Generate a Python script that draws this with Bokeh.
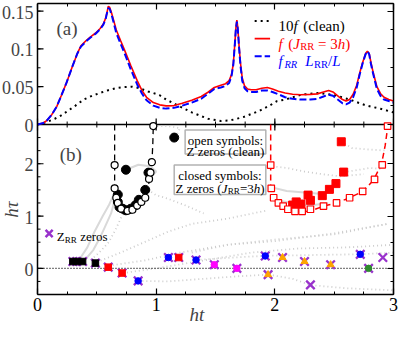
import math
from bokeh.plotting import figure
from bokeh.models import (Range1d, LinearAxis, Label, Span, BoxAnnotation,
                          FixedTicker, CustomJSTickFormatter)
from bokeh.embed import file_html
from bokeh.resources import INLINE

FONT = "Liberation Serif"

# ---------------- panel (a) data ----------------
x_f = [0, 0.05, 0.08, 0.12, 0.163, 0.2, 0.244, 0.29, 0.336, 0.366, 0.41, 0.447, 0.49, 0.528,
       0.555, 0.575, 0.588, 0.596, 0.608, 0.623, 0.643, 0.664, 0.7, 0.732, 0.786, 0.84, 0.88,
       0.919, 0.976, 1.03, 1.084, 1.15, 1.22, 1.30, 1.38, 1.44, 1.49, 1.545, 1.585, 1.615,
       1.635, 1.65, 1.662, 1.672, 1.68, 1.688, 1.698, 1.71, 1.725, 1.745, 1.77, 1.80, 1.843,
       1.89, 1.937, 1.98, 2.03, 2.087, 2.15, 2.22, 2.30, 2.358, 2.41, 2.453, 2.49, 2.53, 2.57,
       2.60, 2.63, 2.66, 2.69, 2.715, 2.74, 2.765, 2.78, 2.795, 2.81, 2.83, 2.86, 2.89, 2.92,
       2.96, 3.0]
f_jrr = [0, 0.002, 0.0055, 0.013, 0.024, 0.038, 0.055, 0.075, 0.094, 0.104, 0.111, 0.116,
         0.121, 0.127, 0.133, 0.141, 0.150, 0.156, 0.155, 0.148, 0.137, 0.125, 0.111, 0.099,
         0.078, 0.058, 0.045, 0.036, 0.029, 0.026, 0.0246, 0.025, 0.028, 0.032, 0.037, 0.043,
         0.049, 0.052, 0.054, 0.058, 0.066, 0.08, 0.105, 0.128, 0.138, 0.128, 0.105, 0.082,
         0.062, 0.051, 0.047, 0.046, 0.046, 0.048, 0.049, 0.047, 0.044, 0.0416, 0.040, 0.0394,
         0.0398, 0.0405, 0.043, 0.045, 0.043, 0.038, 0.033, 0.031, 0.033, 0.040, 0.052, 0.068,
         0.082, 0.094, 0.097, 0.094, 0.082, 0.068, 0.050, 0.041, 0.036, 0.033, 0.031]
f_rr = [0, 0.002, 0.0055, 0.013, 0.024, 0.038, 0.055, 0.075, 0.094, 0.103, 0.110, 0.115,
        0.120, 0.126, 0.132, 0.140, 0.149, 0.154, 0.153, 0.146, 0.134, 0.121, 0.107, 0.095,
        0.073, 0.053, 0.041, 0.032, 0.025, 0.022, 0.021, 0.022, 0.025, 0.029, 0.034, 0.041,
        0.047, 0.049, 0.051, 0.055, 0.064, 0.079, 0.104, 0.127, 0.136, 0.126, 0.103, 0.079,
        0.058, 0.048, 0.044, 0.043, 0.043, 0.045, 0.045, 0.043, 0.040, 0.036, 0.034, 0.033,
        0.033, 0.034, 0.037, 0.0394, 0.038, 0.033, 0.028, 0.0267, 0.029, 0.036, 0.049, 0.066,
        0.081, 0.093, 0.097, 0.093, 0.080, 0.066, 0.047, 0.038, 0.033, 0.031, 0.029]
x_clean = [0, 0.073, 0.146, 0.2, 0.255, 0.32, 0.39, 0.46, 0.526, 0.59, 0.661, 0.73, 0.797,
           0.86, 0.932, 0.976, 1.027, 1.084, 1.19, 1.30, 1.437, 1.545, 1.626, 1.734, 1.87,
           1.951, 2.019, 2.087, 2.22, 2.358, 2.49, 2.63, 2.764, 2.9, 3.0]
f_clean10 = [0, 0.003, 0.0076, 0.012, 0.018, 0.025, 0.033, 0.038, 0.0416, 0.045, 0.048,
             0.0495, 0.050, 0.048, 0.0437, 0.0416, 0.039, 0.033, 0.0246, 0.016, 0.0076, 0.0047,
             0.0055, 0.0098, 0.018, 0.0246, 0.031, 0.033, 0.0394, 0.0416, 0.0394, 0.033, 0.0254,
             0.0204, 0.016]

# ---------------- panel (b) data ----------------
u_clean_x = [0.65, 0.65, 0.652, 0.66, 0.675, 0.70, 0.732, 0.76, 0.80, 0.84, 0.88, 0.908, 0.925,
             0.94, 0.955, 0.965, 0.972, 0.976]
u_clean_y = [2.75, 1.6, 1.45, 1.33, 1.22, 1.14, 1.10, 1.09, 1.12, 1.2, 1.28, 1.36, 1.48, 1.65,
             1.85, 2.05, 2.4, 2.75]
open_c_x = [0.65, 0.65, 0.664, 0.677, 0.705, 0.759, 0.80, 0.84, 0.875, 0.908, 0.94, 0.952,
            0.964, 0.976]
open_c_y = [1.975, 1.53, 1.35, 1.25, 1.14, 1.10, 1.12, 1.2, 1.27, 1.35, 1.71, 1.83, 2.03, 2.72]
fill_c_x = [1.152, 0.745, 0.935, 0.908, 0.677, 0.677, 0.691, 0.718, 0.745, 0.786, 0.827, 0.854]
fill_c_y = [2.5, 1.885, 1.83, 1.5, 1.41, 1.27, 1.17, 1.14, 1.11, 1.14, 1.21, 1.31]

u_rr_x = [1.965, 1.965, 1.97, 1.992, 2.03, 2.07, 2.14, 2.25, 2.33, 2.41, 2.52, 2.63, 2.74, 2.83,
          2.9, 2.93, 2.945, 2.95]
u_rr_y = [2.75, 1.6, 1.45, 1.35, 1.25, 1.18, 1.11, 1.08, 1.12, 1.19, 1.25, 1.35, 1.47, 1.68,
          2.0, 2.35, 2.6, 2.75]
open_s_x = [1.965, 1.97, 1.99, 2.03, 2.07, 2.11, 2.17, 2.23, 2.30, 2.41, 2.52, 2.63, 2.74, 2.84,
            2.905, 2.95]
open_s_y = [1.975, 1.53, 1.35, 1.25, 1.19, 1.13, 1.09, 1.09, 1.13, 1.19, 1.25, 1.35, 1.47, 1.70,
            1.98, 2.72]
fill_s_x = [2.56, 2.58, 2.515, 2.46, 2.40, 2.28, 2.30, 2.22, 2.18, 2.15]
fill_s_y = [2.42, 1.84, 1.62, 1.51, 1.39, 1.40, 1.30, 1.23, 1.27, 1.21]

# Z_RR zeros and the Z zeros lying on them
zrr_x = [0.298, 0.33, 0.38, 0.488, 0.596, 0.713, 0.848, 1.103, 1.19, 1.336, 1.49, 1.68, 1.919,
         1.943, 2.065, 2.25, 2.30, 2.47, 2.72, 2.79, 2.91]
zrr_y = [0.13, 0.13, 0.13, 0.10, 0.023, -0.09, -0.24, 0.207, 0.207, 0.16, 0.07, 0.0, 0.237,
         -0.12, 0.207, 0.13, -0.316, 0.07, 0.268, 0.0, 0.207]
blk_sq_x = [0.298, 0.33, 0.38, 0.488]
blk_sq_y = [0.13, 0.13, 0.13, 0.10]
red_sq_x = [0.596, 0.713, 1.19]
red_sq_y = [0.023, -0.09, 0.207]
blue_x = [0.848, 1.103, 1.336, 1.919, 2.72]
blue_y = [-0.24, 0.207, 0.16, 0.237, 0.268]
mag_x = [1.49, 1.68]
mag_y = [0.07, 0.0]
orange_x = [1.943, 2.065, 2.25, 2.47]
orange_y = [-0.12, 0.207, 0.13, 0.07]
green_x = [2.79]
green_y = [0.0]

# faint trajectories (grey)
traj_dot_x = [
    [0.45, 0.52, 0.6, 0.66, 0.70, 0.73],
    [0.5, 0.7, 0.9, 1.1, 1.3, 1.6, 1.92],
    [0.6, 0.9, 1.2, 1.6, 2.0, 2.5, 2.95],
    [0.72, 1.0, 1.4, 1.8, 2.2, 2.6, 3.0],
    [0.85, 1.1, 1.4, 1.7, 1.95],
    [1.95, 2.15, 2.3, 2.6, 3.0],
    [1.34, 1.6, 1.92, 2.2, 2.72, 3.0],
    [0.976, 1.1, 1.2, 1.18, 1.15],
    [0.93, 1.0, 1.1, 1.25, 1.4],
    [2.56, 2.65, 2.8, 2.95],
    [2.58, 2.7, 2.8, 2.9],
    [1.98, 2.1, 2.25, 2.4, 2.55, 2.75],
    [1.3, 1.6, 2.0, 2.5, 2.95],
]
traj_dot_y = [
    [0.16, 0.3, 0.5, 0.75, 0.95, 1.08],
    [0.12, 0.3, 0.5, 0.7, 0.85, 0.95, 1.1],
    [0.05, 0.15, 0.3, 0.45, 0.55, 0.65, 0.85],
    [-0.09, 0.0, 0.15, 0.3, 0.38, 0.4, 0.45],
    [-0.24, -0.25, -0.2, -0.15, -0.12],
    [-0.12, -0.2, -0.32, -0.38, -0.42],
    [0.16, 0.2, 0.24, 0.25, 0.27, 0.3],
    [2.72, 2.72, 2.68, 2.58, 2.5],
    [1.5, 1.4, 1.33, 1.2, 1.05],
    [2.42, 2.3, 2.27, 2.25],
    [1.84, 1.88, 1.92, 1.9],
    [1.95, 1.92, 1.85, 1.8, 1.76, 1.8],
    [0.3, 0.45, 0.52, 0.67, 0.85],
]
traj_solid_x = [
    [0.35, 0.42, 0.48, 0.55, 0.6, 0.65],
    [0.40, 0.47, 0.53, 0.58, 0.62, 0.65],
    [0.745, 0.85, 0.95, 1.0, 0.97],
    [1.97, 2.1, 2.25, 2.4],
    [2.0, 2.1, 2.2, 2.3, 2.45],
]
traj_solid_y = [
    [0.16, 0.4, 0.7, 1.0, 1.2, 1.45],
    [0.16, 0.35, 0.6, 0.85, 1.05, 1.3],
    [1.885, 1.98, 1.95, 1.85, 1.78],
    [1.55, 1.48, 1.45, 1.42],
    [1.3, 1.27, 1.22, 1.2, 1.25],
]

# tick values and labels
x_major = [0, 1, 2, 3]
x_minor = [i * 0.25 for i in range(13)]
a_major = [0, 0.05, 0.1, 0.15]
a_labels = ["0", "0.05", "0.1", "0.15"]
a_minor = [j * 0.025 for j in range(7)]
b_major = [0, 1, 2]
b_labels = ["0", "1", "2"]
b_minor = [-0.5 + 0.25 * i for i in range(14)]

# ---------------- geometry: one frame, two stacked panels ----------------
W, H = 399, 327
RB = 6                            # right border
X0PX = 37                         # px from frame left to x = 0 (room for y labels)
FW = W - RB
XL = -3.0 * X0PX / (FW - X0PX)    # x range start so that x = 0 sits X0PX into frame
PXX = (FW - X0PX) / 3.0           # px per x unit
HT, HB = 121, 170                 # relative heights of panels (a) and (b)
Y0, Y1 = -0.5, 2.75               # panel (b) range
A1 = 0.16                         # panel (a) top
EXT = (Y1 - Y0) * HT / HB
S = EXT / A1                      # main units per panel-(a) unit
PXY = HB / (Y1 - Y0)              # px per main y unit

# ---------------- text helpers ----------------
REG = {' ': 250, '(': 333, ')': 333, '=': 564, '/': 278, ':': 278, '.': 250,
       'a': 444, 'b': 500, 'c': 444, 'd': 500, 'e': 444, 'f': 333, 'h': 500, 'i': 278,
       'l': 278, 'm': 778, 'n': 500, 'o': 500, 'p': 500, 'r': 333, 's': 389, 't': 278,
       'y': 500, 'z': 444, 'J': 389, 'L': 611, 'R': 667, 'Z': 611}
ITA = {'f': 400, 'h': 500, 'J': 470, 'L': 580, 'R': 640}


def twidth(s, style):
    tab = ITA if style == "italic" else REG
    return sum(tab.get(c, 500) for c in s) / 1000.0


def rich(p, x, y, pieces, size, color, center=False, rng="default"):
    total = sum(twidth(t, st) * size * sc for t, st, sc, dy in pieces)
    off = -total / 2 if center else 0
    for t, st, sc, dy in pieces:
        fs = size * sc
        lead = len(t) - len(t.lstrip(' '))
        trail = len(t) - len(t.rstrip(' '))
        core = t.strip(' ')
        off += lead * 0.25 * fs
        p.add_layout(Label(x=x, y=y, x_offset=off, y_offset=dy, text=core, text_font=FONT,
                           text_font_size=f"{fs:.1f}px", text_font_style=st,
                           text_color=color, text_baseline="alphabetic", text_align="left",
                           y_range_name=rng))
        off += twidth(core, st) * fs + trail * 0.25 * fs


def mk_axis(ticker, labels=True, bounds="auto"):
    ax = LinearAxis(ticker=ticker, bounds=bounds)
    ax.axis_line_color = "black"
    ax.axis_line_width = 1.5
    ax.major_tick_in = 6
    ax.major_tick_out = 0
    ax.minor_tick_in = 3
    ax.minor_tick_out = 0
    ax.major_tick_line_width = 1.2
    ax.minor_tick_line_width = 1.0
    if labels:
        ax.major_label_text_font = FONT
        ax.major_label_text_font_size = "18px"
        ax.major_label_text_color = "black"
        ax.major_label_standoff = 3
    else:
        ax.major_label_text_font_size = "0px"
        ax.major_label_standoff = 0
        ax.formatter = CustomJSTickFormatter(code="return '';")
    return ax


p = figure(width=W, height=H, min_border_left=0, min_border_right=RB, min_border_top=3,
           min_border_bottom=0, output_backend="svg", toolbar_location=None,
           x_axis_location=None, y_axis_location=None,
           x_range=Range1d(XL, 3), y_range=Range1d(Y0, Y1 + EXT))
p.extra_y_ranges = {"a": Range1d(-(Y1 - Y0) / S, A1)}
p.outline_line_color = None
p.background_fill_color = "white"
p.border_fill_color = "white"
p.xgrid.visible = False
p.ygrid.visible = False
p.grid.visible = False

y_major_pos = b_major + [Y1 + v * S for v in a_major]
y_major_txt = b_labels + a_labels
y_minor_pos = b_minor + [Y1 + v * S for v in a_minor]

p.add_layout(mk_axis(FixedTicker(ticks=y_major_pos, minor_ticks=y_minor_pos), False), "right")
p.add_layout(mk_axis(FixedTicker(ticks=x_major, minor_ticks=x_minor), False, (0, 3)), "above")
axb = mk_axis(FixedTicker(ticks=x_major, minor_ticks=x_minor), True, (0, 3))
axb.axis_label = "ht"
axb.axis_label_text_font = FONT
axb.axis_label_text_font_style = "italic"
axb.axis_label_text_font_size = "19px"
axb.axis_label_standoff = -10
p.add_layout(axb, "below")

# left frame edge with inward ticks and labels
p.add_layout(Span(location=0, dimension="height", line_color="black", line_width=1.5))
p.segment(x0=[0] * len(y_major_pos), y0=y_major_pos, x1=[6 / PXX] * len(y_major_pos),
          y1=y_major_pos, line_color="black", line_width=1.2)
p.segment(x0=[0] * len(y_minor_pos), y0=y_minor_pos, x1=[3 / PXX] * len(y_minor_pos),
          y1=y_minor_pos, line_color="black", line_width=1.0)
for pos, txt in zip(y_major_pos, y_major_txt):
    p.add_layout(Label(x=0, y=pos, x_offset=-4, y_offset=-1, text=txt, text_font=FONT,
                       text_font_size="18px", text_align="right", text_baseline="middle"))

# separator between the panels, with ticks crossing it
p.segment(x0=[0], y0=[Y1], x1=[3], y1=[Y1], line_color="black", line_width=1.5)
Lmaj, Lmin = 6 / PXY, 3 / PXY
p.segment(x0=x_major, y0=[Y1 - Lmaj] * len(x_major), x1=x_major, y1=[Y1 + Lmaj] * len(x_major),
          line_color="black", line_width=1.2)
p.segment(x0=x_minor, y0=[Y1 - Lmin] * len(x_minor), x1=x_minor, y1=[Y1 + Lmin] * len(x_minor),
          line_color="black", line_width=1.0)

# ---------------- panel (a) ----------------
p.line(x_clean, f_clean10, line_color="black", line_width=2, line_dash="2 4", y_range_name="a")
p.line(x_f, f_jrr, line_color="#ff0000", line_width=1.6, y_range_name="a")
p.line(x_f, f_rr, line_color="#0000ff", line_width=2, line_dash="7 3", y_range_name="a")

p.add_layout(Label(x=0.16, y=0.127, text="(a)", text_font=FONT, text_font_size="19px",
                   text_baseline="alphabetic", y_range_name="a"))
leg_y = [0.137, 0.1136, 0.0903]
p.line([1.83, 1.96], [leg_y[0]] * 2, line_color="black", line_width=2, line_dash="2 4",
       y_range_name="a")
p.line([1.83, 1.96], [leg_y[1]] * 2, line_color="#ff0000", line_width=1.6, y_range_name="a")
p.line([1.83, 1.96], [leg_y[2]] * 2, line_color="#0000ff", line_width=2, line_dash="7 3",
       y_range_name="a")
rich(p, 2.03, leg_y[0], [("10", "normal", 1, -5), ("f", "italic", 1, -5),
                         (" (clean)", "normal", 1, -5)], 15, "black", rng="a")
rich(p, 2.03, leg_y[1], [("f", "italic", 1, -5), (" (", "normal", 1, -5),
                         ("J", "italic", 1, -5), ("RR", "normal", 0.7, -8),
                         (" = 3", "normal", 1, -5), ("h", "italic", 1, -5),
                         (")", "normal", 1, -5)], 15, "#ff0000", rng="a")
rich(p, 2.03, leg_y[2], [("f", "italic", 1, -5), ("RR", "italic", 0.7, -8),
                         (" ", "normal", 1, -5), ("L", "italic", 1, -5),
                         ("RR", "normal", 0.7, -8), ("/", "normal", 1, -5),
                         ("L", "italic", 1, -5)], 15, "#0000ff", rng="a")

# ---------------- panel (b) ----------------
p.multi_line(traj_dot_x, traj_dot_y, line_color="#cccccc", line_width=1.8, line_dash="1 3")
p.multi_line(traj_solid_x, traj_solid_y, line_color="#d9d9d9", line_width=2)
p.segment(x0=[0], y0=[0], x1=[3], y1=[0], line_color="black", line_width=1.2, line_dash="1 2")

p.line(u_clean_x, u_clean_y, line_color="black", line_width=1.3, line_dash="6 4")
p.line(u_rr_x, u_rr_y, line_color="#ff0000", line_width=1.5, line_dash="6 4")
p.scatter(fill_c_x, fill_c_y, marker="circle", size=9, fill_color="black", line_color="black")
p.scatter(open_c_x, open_c_y, marker="circle", size=7, fill_color="white", line_color="black",
          line_width=1.2)
p.scatter(fill_s_x, fill_s_y, marker="square", size=8, fill_color="#ff0000",
          line_color="#ff0000")
p.scatter(open_s_x, open_s_y, marker="square", size=6.5, fill_color="white",
          line_color="#ff0000", line_width=1.2)

PURPLE = "#9932cc"
p.scatter(zrr_x, zrr_y, marker="x", size=12, line_color=PURPLE, line_width=2.3)
p.scatter(blk_sq_x, blk_sq_y, marker="square", size=6.5, fill_color="black", line_color="black")
p.scatter(red_sq_x, red_sq_y, marker="square", size=6.5, fill_color="#ff0000",
          line_color="#ff0000")
p.scatter(blue_x, blue_y, marker="circle", size=6.5, fill_color="#0000ff", line_color="#0000ff")
p.scatter(mag_x, mag_y, marker="circle", size=6.5, fill_color="#ff00ff", line_color="#ff00ff")
p.scatter(orange_x, orange_y, marker="triangle", size=7, fill_color="#ffa500",
          line_color="#ffa500")
p.scatter(green_x, green_y, marker="circle", size=6.5, fill_color="#2e8b2e", line_color="#2e8b2e")

p.add_layout(Label(x=0.187, y=2.17, text="(b)", text_font=FONT, text_font_size="19px",
                   text_baseline="alphabetic"))

# legend boxes
p.add_layout(BoxAnnotation(left=1.244, right=1.924, top=2.643, bottom=2.184,
                           fill_color="white", fill_alpha=1, line_color="black",
                           line_width=1.5))
p.add_layout(BoxAnnotation(left=1.152, right=1.924, top=1.975, bottom=1.41,
                           fill_color="white", fill_alpha=1, line_color="black",
                           line_width=1.5))
rich(p, 1.584, 2.45, [("open symbols:", "normal", 1, 0)], 13, "black", center=True)
rich(p, 1.584, 2.23, [("Z zeros (clean)", "normal", 1, 0)], 13, "black", center=True)
rich(p, 1.538, 1.773, [("closed symbols:", "normal", 1, 0)], 13, "black", center=True)
rich(p, 1.538, 1.535, [("Z zeros (", "normal", 1, 0), ("J", "italic", 1, 0),
                       ("RR", "normal", 0.7, -3), ("=3", "normal", 1, 0),
                       ("h", "italic", 1, 0), (")", "normal", 1, 0)], 13, "black",
     center=True)

# Z_RR legend
p.scatter([0.098], [0.666], marker="x", size=10, line_color=PURPLE, line_width=2.5)
rich(p, 0.163, 0.6, [("Z", "normal", 1, 0), ("RR", "normal", 0.7, -3),
                     (" zeros", "normal", 1, 0)], 13, "black")

# y title of panel (b)
p.add_layout(Label(x=0, y=(Y0 + Y1) / 2, x_offset=-26, text="hτ", text_font=FONT,
                   text_font_size="19px", text_font_style="italic", angle=math.pi / 2,
                   text_align="center", text_baseline="middle"))

open("out.html", "w").write(file_html(p, INLINE))
